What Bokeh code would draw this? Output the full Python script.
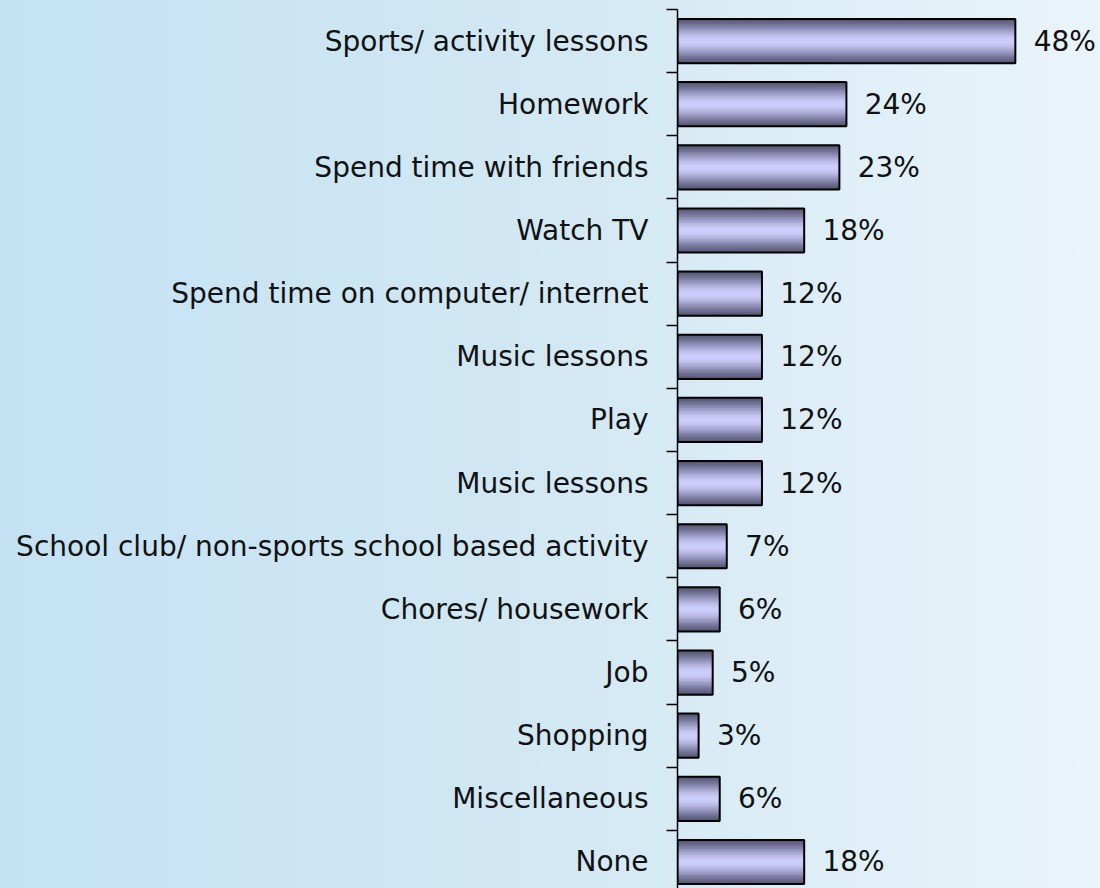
from bokeh.plotting import figure
from bokeh.models import Range1d, FixedTicker, ColumnDataSource, LabelSet
from bokeh.core.properties import value
from bokeh.embed import file_html
from bokeh.resources import INLINE

categories = ["Sports/ activity lessons", "Homework", "Spend time with friends", "Watch TV",
              "Spend time on computer/ internet", "Music lessons", "Play", "Music lessons",
              "School club/ non-sports school based activity", "Chores/ housework", "Job",
              "Shopping", "Miscellaneous", "None"]
values = [48, 24, 23, 18, 12, 12, 12, 12, 7, 6, 5, 3, 6, 18]
value_labels = ["48%", "24%", "23%", "18%", "12%", "12%", "12%", "12%", "7%", "6%", "5%", "3%", "6%", "18%"]

n = len(categories)
ys = list(range(n))
src = ColumnDataSource(dict(y=ys, v=values, lab=value_labels,
                            lx=[v + 2.6 for v in values]))

p = figure(width=1100, height=888, output_backend="svg", toolbar_location=None,
           x_range=Range1d(0, 60.1), y_range=Range1d(13.42, -0.5),
           min_border_left=677, min_border_right=0, min_border_top=9, min_border_bottom=0)
p.border_fill_alpha = 0
p.background_fill_alpha = 0
p.outline_line_color = None
p.styles = {"background": "linear-gradient(to right, #c4e2f4 0%, #d2e8f3 50%, #eaf4fb 100%)"}
p.grid.visible = False
p.xaxis.visible = False

ax = p.yaxis[0]
ax.ticker = FixedTicker(ticks=ys, minor_ticks=[i - 0.5 for i in range(n + 1)])
ax.major_label_overrides = {i: c for i, c in enumerate(categories)}
ax.major_tick_line_color = None
ax.minor_tick_in = 0
ax.minor_tick_out = 11
ax.minor_tick_line_color = "black"
ax.minor_tick_line_width = 1.5
ax.axis_line_color = "black"
ax.axis_line_width = 1.5
ax.major_label_standoff = 18
ax.major_label_text_font = "DejaVu Sans"
ax.major_label_text_font_size = "28px"
ax.major_label_text_color = "#111111"

# bars: layered shading for a vertical gradient
shades = ["#56566f", "#606080", "#6a6a8c", "#757598", "#8080a6", "#8c8cb4", "#9898c2",
          "#a4a4ce", "#b0b0da", "#babae5", "#c3c3ef", "#c9c9f8", "#ccccfe"]
h = 0.7
m = len(shades)
for k, c in enumerate(shades):
    hh = h * (1 - k / m)
    p.hbar(y="y", right="v", left=0, height=hh, source=src, fill_color=c, line_color=None)
p.hbar(y="y", right="v", left=0, height=h, source=src, fill_color=None,
       line_color="black", line_width=2)

labels = LabelSet(x="lx", y="y", text="lab", source=src, text_align="left",
                  text_baseline="middle", text_font=value("DejaVu Sans"),
                  text_font_size=value("28px"), text_color="#111111")
p.add_layout(labels)

open("out.html", "w").write(file_html(p, INLINE))
